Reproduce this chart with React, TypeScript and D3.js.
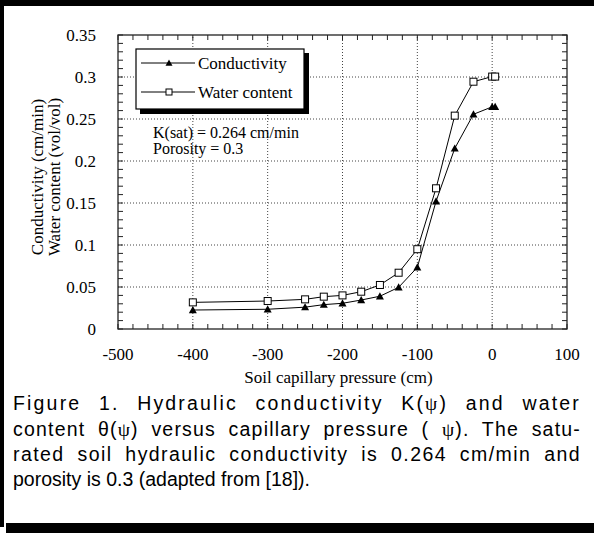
import { useLayoutEffect, useRef } from 'react'
import * as d3 from 'd3'

// pressure (cm) and values
const pressure = [-400, -300, -250, -225, -200, -175, -150, -125, -100, -75, -50, -25, 0, 4]
const conductivity = [0.0226, 0.0235, 0.026, 0.029, 0.0306, 0.0345, 0.039, 0.0496, 0.0734, 0.152, 0.215, 0.2556, 0.2645, 0.2645]
const waterContent = [0.0317, 0.0333, 0.0353, 0.0385, 0.040, 0.0444, 0.0524, 0.067, 0.095, 0.1675, 0.254, 0.2944, 0.3005, 0.3005]

const xTicks = [-500, -400, -300, -200, -100, 0, 100]
const yTicks = [0, 0.05, 0.1, 0.15, 0.2, 0.25, 0.3, 0.35]
const yTickLabels = ['0', '0.05', '0.1', '0.15', '0.2', '0.25', '0.3', '0.35']

const legendItems = ['Conductivity', 'Water content']
const notes = ['K(sat) = 0.264 cm/min', 'Porosity = 0.3']

const W = 594
const H = 533
const serif = '"Liberation Serif", "Times New Roman", serif'
const sans = '"Liberation Sans", Arial, sans-serif'

export default function App() {
  const capRefs = useRef<(SVGTextElement | null)[]>([])

  // justify the first caption lines the way the typesetter did:
  // a fixed extra word gap, the rest spread over the letters
  useLayoutEffect(() => {
    const target = 568
    const wordExtra = [10, 6, 6]
    capRefs.current.forEach((el, i) => {
      if (!el) return
      el.setAttribute('letter-spacing', '0')
      el.setAttribute('word-spacing', '0')
      const len = el.getComputedTextLength()
      const txt = el.textContent || ''
      const gaps = txt.split(' ').length - 1
      const ls = Math.max(0, (target - len - gaps * wordExtra[i]) / txt.length)
      el.setAttribute('letter-spacing', String(ls))
      const len2 = el.getComputedTextLength()
      el.setAttribute('word-spacing', String((target - len2) / gaps))
    })
  }, [])

  const x = d3.scaleLinear().domain([-500, 100]).range([118, 567])
  const y = d3.scaleLinear().domain([0, 0.35]).range([329, 35])
  const [x0, x1] = x.range()
  const [yb, yt] = y.range()

  const minorX = d3.range(-500, 101, 20)
  const minorY = d3.range(0, 0.3501, 0.01)

  const line = d3.line<[number, number]>().x(d => x(d[0])).y(d => y(d[1]))
  const condPts = pressure.map((p, i) => [p, conductivity[i]] as [number, number])
  const waterPts = pressure.map((p, i) => [p, waterContent[i]] as [number, number])

  const tri = (cx: number, cy: number, s = 4) =>
    `M${cx},${cy - s}L${cx + s},${cy + s * 0.8}L${cx - s},${cy + s * 0.8}Z`

  const tk = 5

  return (
    <svg width={W} height={H} style={{ position: 'absolute', left: 0, top: 0, background: '#fff' }}>
      {/* figure frame */}
      <rect x={0} y={0} width={W} height={6} fill="#000" />
      <rect x={0} y={0} width={4} height={527} fill="#000" />
      <rect x={6} y={523} width={W - 6} height={10} fill="#000" />

      {/* grid */}
      <g stroke="#444" strokeDasharray="1,2" strokeWidth={1}>
        {xTicks.slice(1, -1).map(t => (
          <line key={'gx' + t} x1={x(t)} x2={x(t)} y1={yb} y2={yt} />
        ))}
        {yTicks.slice(1, -1).map(t => (
          <line key={'gy' + t} x1={x0} x2={x1} y1={y(t)} y2={y(t)} />
        ))}
      </g>

      {/* minor ticks, pointing inward on all four sides */}
      <g stroke="#222" strokeWidth={1}>
        {minorX.map(t => (
          <g key={'tx' + t}>
            <line x1={x(t)} x2={x(t)} y1={yb} y2={yb - tk} />
            <line x1={x(t)} x2={x(t)} y1={yt} y2={yt + tk} />
          </g>
        ))}
        {minorY.map(t => (
          <g key={'ty' + t.toFixed(2)}>
            <line x1={x0} x2={x0 + tk} y1={y(t)} y2={y(t)} />
            <line x1={x1} x2={x1 - tk} y1={y(t)} y2={y(t)} />
          </g>
        ))}
      </g>
      <rect x={x0} y={yt} width={x1 - x0} height={yb - yt} fill="none" stroke="#222" strokeWidth={1.3} />

      {/* tick labels and titles */}
      <g fontFamily={serif} fontSize={17} fill="#000">
        {xTicks.map(t => (
          <text key={'lx' + t} x={x(t)} y={360} textAnchor="middle">{t}</text>
        ))}
        {yTicks.map((t, i) => (
          <text key={'ly' + t} x={96} y={y(t) + 6} textAnchor="end">{yTickLabels[i]}</text>
        ))}
        <text x={(x0 + x1) / 2 - 4} y={383} textAnchor="middle">Soil capillary pressure (cm)</text>
        <g transform={`translate(0,${(yb + yt) / 2 - 5}) rotate(-90)`}>
          <text x={0} y={43} textAnchor="middle">Conductivity (cm/min)</text>
          <text x={0} y={60} textAnchor="middle">Water content (vol/vol)</text>
        </g>
      </g>

      {/* series */}
      <path d={line(condPts) ?? ''} fill="none" stroke="#000" strokeWidth={1} />
      <path d={line(waterPts) ?? ''} fill="none" stroke="#000" strokeWidth={1} />
      {condPts.map((d, i) => (
        <path key={'c' + i} d={tri(x(d[0]), y(d[1]))} fill="#000" />
      ))}
      {waterPts.map((d, i) => (
        <rect key={'w' + i} x={x(d[0]) - 3.5} y={y(d[1]) - 3.5} width={7} height={7} fill="#fff" stroke="#000" strokeWidth={1} />
      ))}

      {/* legend */}
      <rect x={140} y={53} width={169} height={61} fill="#000" />
      <rect x={136} y={49} width={168} height={60} fill="#fff" stroke="#000" strokeWidth={1.2} />
      {legendItems.map((name, i) => {
        const ly = 63 + i * 29
        return (
          <g key={name}>
            <line x1={141} x2={195} y1={ly} y2={ly} stroke="#000" strokeWidth={1} />
            {i === 0
              ? <path d={tri(169, ly, 3.5)} fill="#000" />
              : <rect x={166} y={ly - 3} width={6} height={6} fill="#fff" stroke="#000" strokeWidth={1} />}
            <text x={198} y={ly + 6} fontFamily={serif} fontSize={17}>{name}</text>
          </g>
        )
      })}

      {/* annotation */}
      {notes.map((n, i) => (
        <text key={n} x={153} y={138 + i * 16} fontFamily={serif} fontSize={16}>{n}</text>
      ))}

      {/* caption */}
      <g fontFamily={sans} fontSize={19.5} fill="#000">
        <text ref={el => { capRefs.current[0] = el }} x={13} y={410}>
          {'Figure 1. Hydraulic conductivity K('}<tspan fontFamily={serif}>ψ</tspan>{') and water'}
        </text>
        <text ref={el => { capRefs.current[1] = el }} x={13} y={436}>
          {'content θ('}<tspan fontFamily={serif}>ψ</tspan>{') versus capillary pressure ( '}<tspan fontFamily={serif}>ψ</tspan>{'). The satu-'}
        </text>
        <text ref={el => { capRefs.current[2] = el }} x={13} y={461}>
          {'rated soil hydraulic conductivity is 0.264 cm/min and'}
        </text>
        <text x={13} y={486}>porosity is 0.3 (adapted from [18]).</text>
      </g>
    </svg>
  )
}
